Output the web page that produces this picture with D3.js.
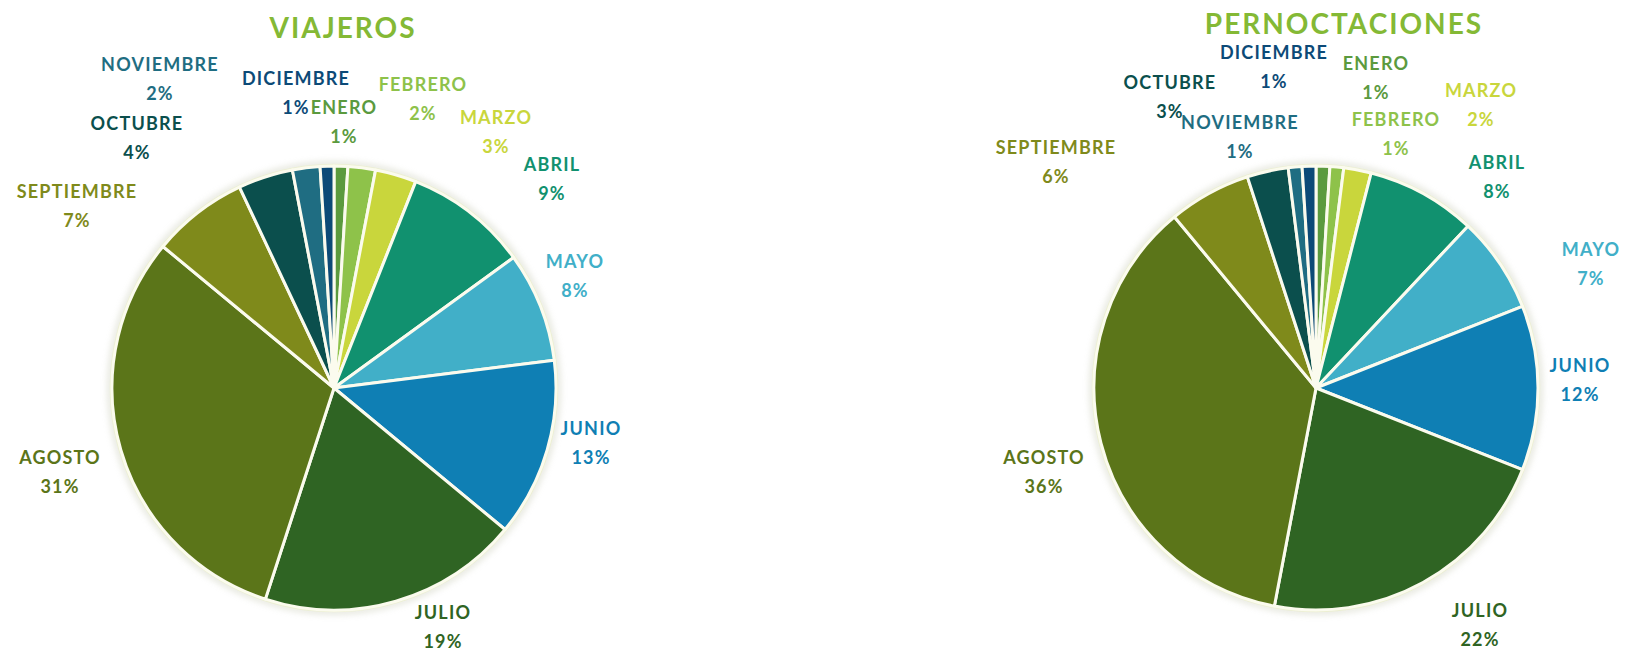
<!DOCTYPE html>
<html>
<head>
<meta charset="utf-8">
<script src="https://cdn.jsdelivr.net/npm/d3@7"></script>
<style>
  html, body { margin: 0; padding: 0; background: #ffffff; }
  svg { display: block; }
  text { font-family: Lato, "Open Sans", sans-serif; font-weight: 700; }
</style>
</head>
<body>
<svg id="chart" width="1635" height="652"></svg>
<script>
// Monthly shares of travellers and overnight stays (%)
const months = ["ENERO", "FEBRERO", "MARZO", "ABRIL", "MAYO", "JUNIO",
                "JULIO", "AGOSTO", "SEPTIEMBRE", "OCTUBRE", "NOVIEMBRE", "DICIEMBRE"];
const viajeros       = [1, 2, 3, 9, 8, 13, 19, 31, 7, 4, 2, 1];
const pernoctaciones = [1, 1, 2, 8, 7, 12, 22, 36, 6, 3, 1, 1];
const titles = ["VIAJEROS", "PERNOCTACIONES"];

// One colour per month
const monthColors = ["#5b9a3e", "#8ec24a", "#c9d63c", "#11916f", "#41afc8", "#0f7fb4",
                     "#2f6423", "#5b7519", "#7f8a1b", "#0b4f4d", "#1f6d82", "#0c4a77"];

// Label anchors (centre x, first-line baseline) relative to each pie centre
const layout = [
  { cx: 334, cy: 388, r: 222, title: [343, 38],
    labels: [[10,-274],[89,-297],[162,-264],[218,-217],[241,-120],[257,47],
             [109,231],[-274,76],[-257,-190],[-197,-258],[-174,-317],[-38,-303]] },
  { cx: 1316, cy: 388, r: 222, title: [1344, 34],
    labels: [[60,-318],[80,-262],[165,-291],[181,-219],[275,-132],[264,-16],
             [164,229],[-272,76],[-260,-234],[-146,-299],[-76,-259],[-42,-329]] }
];
const lineGap = 29;

const svg = d3.select("#chart");
const defs = svg.append("defs");
const shadow = defs.append("filter").attr("id", "soft").attr("x", "-20%").attr("y", "-20%")
  .attr("width", "140%").attr("height", "140%");
shadow.append("feGaussianBlur").attr("stdDeviation", 3);

const color = d3.scaleOrdinal().domain(months).range(monthColors);
const pie = d3.pie().sort(null).startAngle(0).endAngle(2 * Math.PI);

[viajeros, pernoctaciones].forEach((values, k) => {
  const L = layout[k];
  const data = months.map((m, i) => ({ month: m, value: values[i] }));
  const arcs = pie.value(d => d.value)(data);
  const arc = d3.arc().innerRadius(0).outerRadius(L.r);

  const g = svg.append("g").attr("transform", `translate(${L.cx},${L.cy})`);

  // soft halo behind the pie
  g.append("circle").attr("r", L.r + 2).attr("fill", "none")
    .attr("stroke", "#c9ccb8").attr("stroke-width", 5).attr("opacity", 0.55)
    .attr("filter", "url(#soft)");
  g.append("circle").attr("r", L.r + 1).attr("fill", "#fdfdf5")
    .attr("stroke", "#ecefd2").attr("stroke-width", 2.5);

  g.selectAll("path.slice").data(arcs).join("path")
    .attr("class", "slice")
    .attr("d", arc)
    .attr("fill", d => color(d.data.month))
    .attr("stroke", "#fbfbee")
    .attr("stroke-width", 3)
    .attr("stroke-linejoin", "round");

  // month name + share
  const lab = g.selectAll("g.lab").data(arcs).join("g")
    .attr("class", "lab")
    .attr("transform", (d, i) => `translate(${L.labels[i][0]},${L.labels[i][1]})`)
    .attr("fill", d => color(d.data.month));
  lab.append("text").attr("text-anchor", "middle").attr("font-size", 18)
    .attr("letter-spacing", 1.2).text(d => d.data.month);
  lab.append("text").attr("text-anchor", "middle").attr("font-size", 18)
    .attr("letter-spacing", 1.2).attr("y", lineGap).text(d => d.data.value + "%");

  svg.append("text").attr("x", L.title[0]).attr("y", L.title[1])
    .attr("text-anchor", "middle").attr("font-size", 28).attr("letter-spacing", 2)
    .attr("fill", "#84b935").text(titles[k]);
});
</script>
</body>
</html>
